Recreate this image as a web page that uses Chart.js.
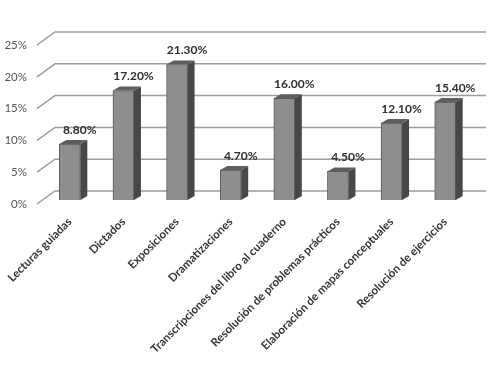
<!DOCTYPE html>
<html>
<head>
<meta charset="utf-8">
<script src="https://cdn.jsdelivr.net/npm/chart.js@4.4.1/dist/chart.umd.min.js"></script>
<style>
  html, body { margin: 0; padding: 0; background: #fff; }
  #wrap { width: 502px; height: 369px; }
</style>
</head>
<body>
<div id="wrap"><canvas id="grafica" width="502" height="369"></canvas></div>
<script>
const categorias = [
    "Lecturas guiadas",
    "Dictados",
    "Exposiciones",
    "Dramatizaciones",
    "Transcripciones del libro al cuaderno",
    "Resolución de problemas prácticos",
    "Elaboración de mapas conceptuales",
    "Resolución de ejercicios"
];
const porcentajes = [8.8, 17.2, 21.3, 4.7, 16.0, 4.5, 12.1, 15.4];
const marcasEje = [0, 5, 10, 15, 20, 25];

// profundidad del efecto 3D
const prof = { dx: 7, dy: 4 };

// lineas del fondo + diagonales
const fondo3d = {
    id: "fondo3d",
    beforeDatasetsDraw(chart) {
        const ctx = chart.ctx;
        const y = chart.scales.y;
        ctx.save();
        ctx.strokeStyle = "#9c9c9c";
        ctx.lineWidth = 1.5;
        marcasEje.forEach(v => {
            const py = y.getPixelForValue(v);
            ctx.beginPath();
            ctx.moveTo(37, py + 4);
            ctx.lineTo(55, py - 9);
            ctx.lineTo(486, py - 9);
            ctx.stroke();
        });
        ctx.restore();
    },
    afterDatasetsDraw(chart) {
        const ctx = chart.ctx;
        const meta = chart.getDatasetMeta(0);
        ctx.save();
        meta.data.forEach((bar, i) => {
            const izq = bar.x - bar.width / 2;
            const der = bar.x + bar.width / 2;
            // lado
            ctx.fillStyle = "#474747";
            ctx.beginPath();
            ctx.moveTo(der, bar.y);
            ctx.lineTo(der + prof.dx, bar.y - prof.dy);
            ctx.lineTo(der + prof.dx, bar.base - prof.dy);
            ctx.lineTo(der, bar.base);
            ctx.closePath();
            ctx.fill();
            // tapa
            ctx.fillStyle = "#5e5e5e";
            ctx.beginPath();
            ctx.moveTo(izq, bar.y);
            ctx.lineTo(izq + prof.dx, bar.y - prof.dy);
            ctx.lineTo(der + prof.dx, bar.y - prof.dy);
            ctx.lineTo(der, bar.y);
            ctx.closePath();
            ctx.fill();
            // etiqueta
            ctx.fillStyle = "#2e2e2e";
            ctx.font = "bold 12px Lato";
            ctx.textAlign = "center";
            ctx.textBaseline = "middle";
            ctx.fillText(porcentajes[i].toFixed(2) + "%", bar.x + 10, bar.y - 14);
        });
        ctx.restore();
    }
};

new Chart(document.getElementById("grafica"), {
    type: "bar",
    data: {
        labels: categorias,
        datasets: [{
            data: porcentajes,
            backgroundColor: "#8e8e8e",
            borderColor: "#5a5a5a",
            borderWidth: 1,
            barThickness: 21
        }]
    },
    options: {
        responsive: false,
        animation: false,
        layout: { padding: { top: 41, right: 30, left: 0, bottom: 0 } },
        plugins: {
            legend: { display: false },
            tooltip: { enabled: false }
        },
        scales: {
            x: {
                grid: { display: false, drawTicks: false },
                border: { display: false },
                ticks: {
                    maxRotation: 45,
                    minRotation: 45,
                    autoSkip: false,
                    padding: 15,
                    color: "#333",
                    font: { family: "Lato", size: 11.5, weight: "bold" }
                },
                afterFit(scale) {
                    scale.height = 169;
                    scale.paddingLeft = 0;
                    scale.paddingRight = 0;
                }
            },
            y: {
                min: 0,
                max: 25,
                grid: { display: false, drawTicks: false },
                border: { display: false },
                ticks: {
                    stepSize: 5,
                    padding: 16,
                    labelOffset: 4,
                    color: "#555",
                    font: { family: "Lato", size: 11.5 },
                    callback: v => v + "%"
                },
                afterFit(scale) { scale.width = 43; }
            }
        }
    },
    plugins: [fondo3d]
});
</script>
</body>
</html>
